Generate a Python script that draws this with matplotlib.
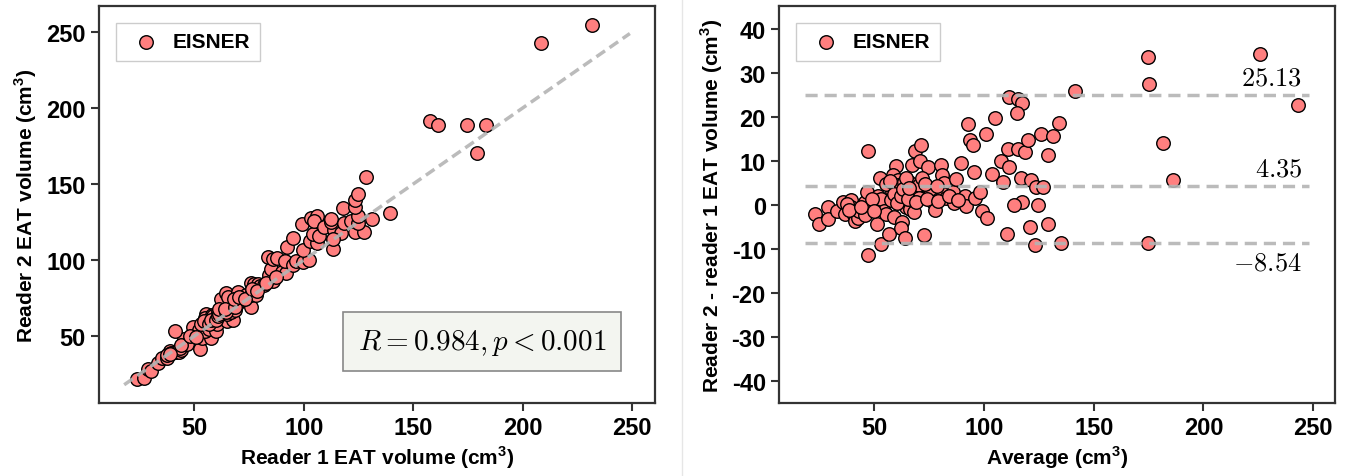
import matplotlib
matplotlib.use('Agg')
from matplotlib import pyplot as plt
from matplotlib.lines import Line2D
import numpy as np

# Bland-Altman values: average of the two readers and difference (reader 2 - reader 1)
media = [22.9, 24.8, 28.8, 28.8, 33.0, 35.5, 36.5, 39.5, 39.3, 40.5, 41.2, 42.5, 43.0, 45.8, 47.2,
         46.8, 45.6, 47.2, 47.0, 51.2, 53.1, 51.8, 52.7, 53.0, 54.3, 55.5, 56.8, 58.2, 59.0, 59.8,
         58.3, 60.8, 60.8, 61.4, 62.5, 62.3, 64.1, 63.3, 64.6, 65.6, 66.4, 67.1, 67.9, 68.4, 69.4,
         70.4, 71.3, 70.7, 70.2, 72.7, 74.4, 75.4, 76.5, 77.5, 80.5, 80.9, 81.9, 81.5, 82.5, 85.7,
         86.1, 87.3, 89.6, 91.1, 91.8, 92.8, 93.4, 94.8, 95.3, 95.9, 98.1, 99.1, 100.7, 101.2, 103.4,
         104.9, 107.8, 108.8, 110.3, 110.7, 111.3, 111.5, 115.5, 117.5, 115.1, 115.5, 116.9, 117.4, 113.6, 118.8,
         119.9, 121.3, 120.9, 123.2, 123.8, 124.6, 126.1, 127.0, 129.0, 129.0, 131.3, 134.3, 135.3, 141.4, 174.7,
         175.1, 174.7, 181.8, 186.0, 225.6, 243.3,
         37.5, 38.5, 44.0, 49.0, 50.0, 55.5, 57.0, 57.5, 59.0, 60.2, 62.0, 63.0, 64.5, 65.2, 66.0,
         69.0, 71.5, 73.0, 74.0, 78.5, 79.2, 84.0, 88.0]
diferenca = [-2.0, -4.2, -0.4, -3.1, -1.2, 0.7, -1.9, 1.1, -0.5, -2.3, -3.6, -3.0, -1.4, 0.7, -0.6,
             3.0, -2.2, 12.4, -11.3, -4.3, -8.8, 2.2, 6.1, 1.5, -1.3, -2.1, -6.5, 3.3, -2.7, 9.0,
             6.9, 5.8, 4.6, 1.0, -3.8, -5.2, -7.4, 5.2, -0.5, 5.4, -0.8, 9.2, -1.6, 12.3, 2.0,
             4.6, 13.7, 10.1, 1.6, -6.7, 8.8, 3.8, 0.8, -1.1, 9.2, 6.9, 5.1, 2.5, 1.6, 3.1,
             0.6, 5.9, 9.5, 2.0, -0.2, 18.5, 14.8, 13.7, 7.6, 1.6, 3.1, -1.3, 16.2, -2.9, 7.1,
             19.9, 10.1, 5.2, -6.6, 12.7, 8.6, 24.6, 24.1, 23.2, 21.0, 12.9, 6.1, 0.7, 0.0, 12.2,
             14.8, 5.8, -5.0, -9.0, 4.2, 0.0, 16.1, 4.2, 11.5, -4.2, 15.8, 18.8, -8.6, 26.0, 33.8,
             27.7, -8.5, 14.1, 5.8, 34.3, 22.8,
             0.2, -1.0, -0.3, 1.5, -1.2, 4.8, 5.5, 1.2, 2.6, 0.4, 2.2, 3.6, 6.2, 1.4, 4.0,
             0.8, 6.3, 4.8, 1.4, 4.4, 1.0, 2.0, 1.2]

# mean difference and limits of agreement
linhas_ba = [25.13, 4.35, -8.54]
rotulos_ba = ['$25.13$', '$4.35$', '$-8.54$']
faixa_ba = [18.5, 248]
faixa_identidade = [18, 249]

media = np.array(media)
diferenca = np.array(diferenca)
leitor1 = media - diferenca / 2
leitor2 = media + diferenca / 2

plt.rcParams['font.family'] = ['Liberation Sans Narrow', 'Liberation Sans', 'DejaVu Sans']
plt.rcParams['font.weight'] = 'bold'
plt.rcParams['axes.labelweight'] = 'bold'
plt.rcParams['axes.unicode_minus'] = False
plt.rcParams['mathtext.fontset'] = 'custom'
plt.rcParams['mathtext.rm'] = 'Liberation Sans:bold'
plt.rcParams['mathtext.bf'] = 'Liberation Sans:bold'

cor_ponto = '#ff7f7f'
cor_linha = '#b4b4b4'

fig = plt.figure(figsize=(13.47, 4.77), dpi=100)
ax1 = fig.add_axes([0.0735, 0.153, 0.4128, 0.832])
ax2 = fig.add_axes([0.5783, 0.153, 0.4128, 0.832])

# faint separator between the two panels
fig.add_artist(Line2D([0.506, 0.506], [0, 1], transform=fig.transFigure, color='#e6e6e6', lw=1))

for ax in (ax1, ax2):
    for s in ax.spines.values():
        s.set_color('#333333')
        s.set_linewidth(1.6)
    ax.tick_params(direction='out', length=6, width=1.5, color='#333333', labelsize=17)

# left: correlation
ax1.scatter(leitor1, leitor2, s=95, c=cor_ponto, edgecolors='black', linewidths=1.0, zorder=2, label='EISNER')
ax1.plot(faixa_identidade, faixa_identidade, color=cor_linha, lw=2.5, ls=(0, (3, 1.6)), alpha=0.9, zorder=3)
ax1.set_xlim(6.5, 260.5)
ax1.set_ylim(6, 267)
ax1.set_xticks([50, 100, 150, 200, 250])
ax1.set_yticks([50, 100, 150, 200, 250])
ax1.set_xlabel('Reader 1 EAT volume (cm$^{3}$)', fontsize=15, labelpad=3)
ax1.set_ylabel('Reader 2 EAT volume (cm$^{3}$)', fontsize=15, labelpad=5)
ax1.legend(loc='upper left', fontsize=15, fancybox=False, framealpha=1, edgecolor='#cccccc',
           handletextpad=0.3, borderpad=0.45, borderaxespad=0.8)
ax1.text(0.689, 0.154, r'$R = 0.984, p < 0.001$', transform=ax1.transAxes, ha='center', va='center',
         fontsize=21, math_fontfamily='cm',
         bbox=dict(boxstyle='square,pad=0.5', facecolor='#f3f5f0', edgecolor='#888888', lw=1.2))

# right: Bland-Altman
ax2.scatter(media, diferenca, s=95, c=cor_ponto, edgecolors='black', linewidths=1.0, zorder=2, label='EISNER')
for valor, rot in zip(linhas_ba, rotulos_ba):
    ax2.plot(faixa_ba, [valor, valor], color=cor_linha, lw=2.5, ls=(0, (3.5, 2)), alpha=0.9, zorder=3)
    if valor < 0:
        ax2.text(245, valor - 1.8, rot, ha='right', va='top', fontsize=19, math_fontfamily='cm')
    else:
        ax2.text(245, valor + 1.3, rot, ha='right', va='bottom', fontsize=19, math_fontfamily='cm')
ax2.set_xlim(6.5, 260)
ax2.set_ylim(-45, 45.3)
ax2.set_xticks([50, 100, 150, 200, 250])
ax2.set_yticks(np.arange(-40, 41, 10))
ax2.set_xlabel('Average (cm$^{3}$)', fontsize=15, labelpad=3)
ax2.set_ylabel('Reader 2 - reader 1 EAT volume (cm$^{3}$)', fontsize=15, labelpad=5)
ax2.legend(loc='upper left', fontsize=15, fancybox=False, framealpha=1, edgecolor='#cccccc',
           handletextpad=0.3, borderpad=0.45, borderaxespad=0.8)

fig.savefig('out.png', dpi=100)
